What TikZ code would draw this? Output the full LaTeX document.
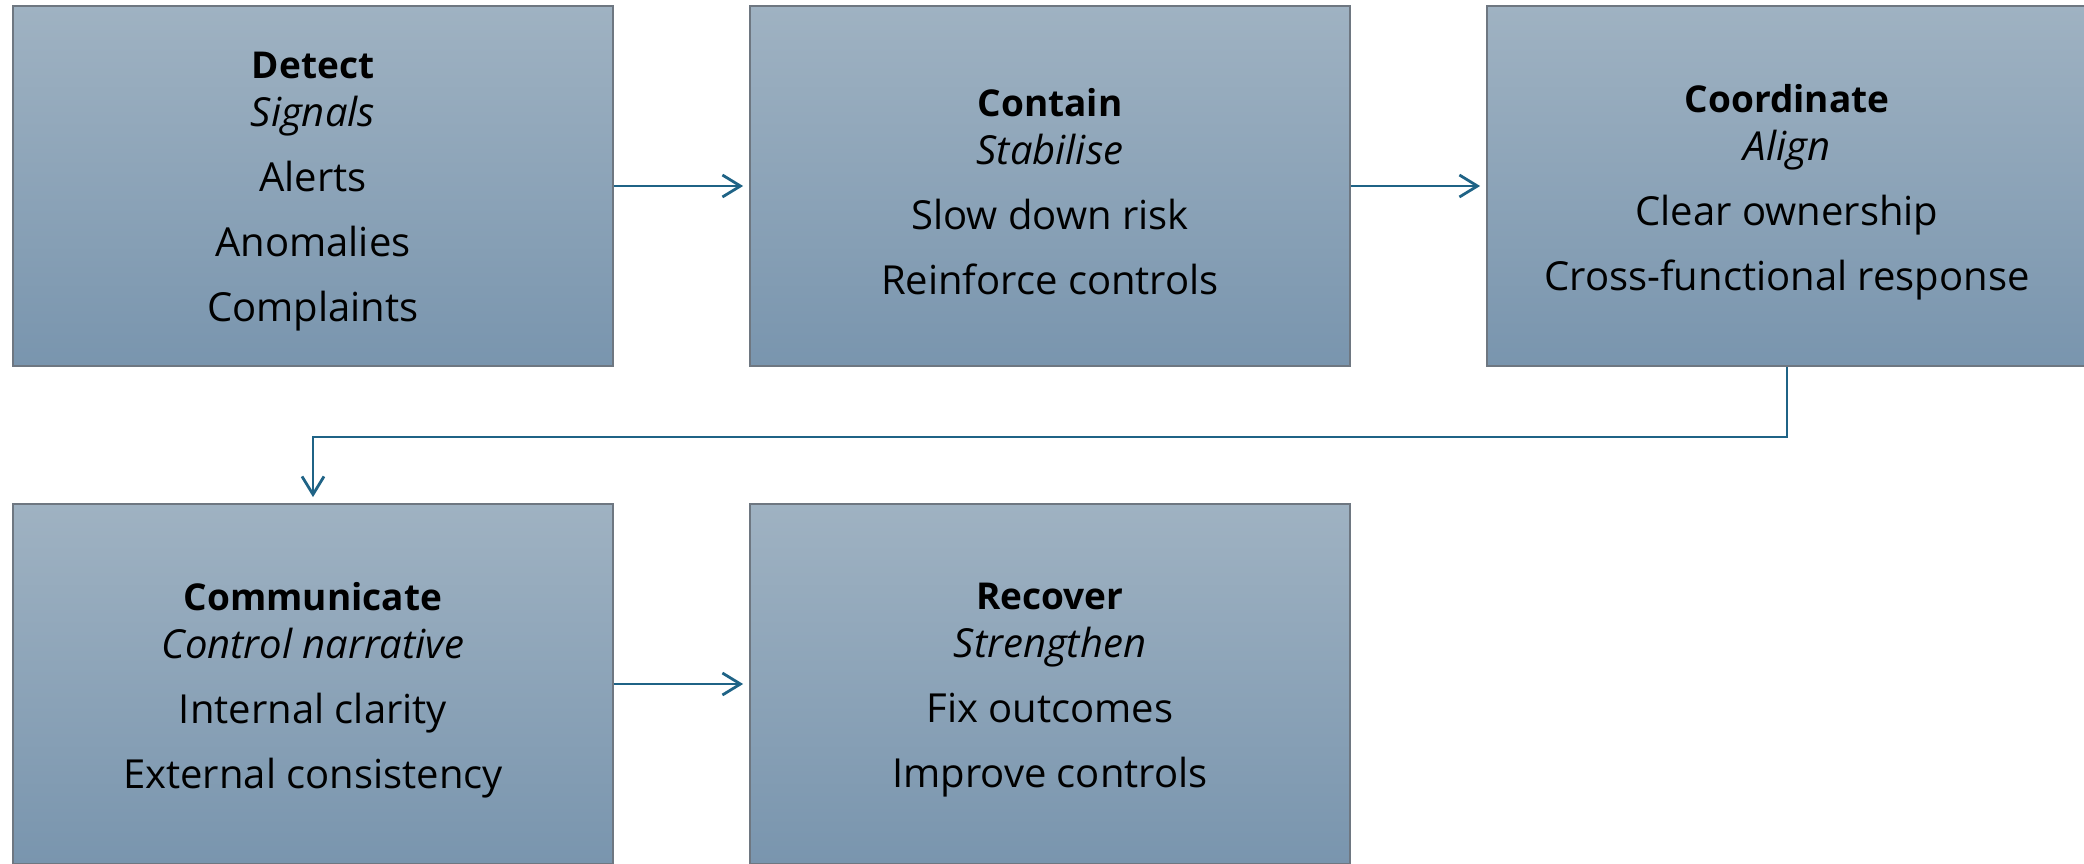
\documentclass[tikz,border=0pt]{standalone}
\usepackage{fontspec}
\setmainfont{Open Sans}
\usetikzlibrary{arrows.meta}
\definecolor{boxtop}{HTML}{9FB2C2}
\definecolor{boxbottom}{HTML}{7995AE}
\definecolor{boxedge}{HTML}{6E7781}
\definecolor{flow}{HTML}{1F6386}
\tikzset{
  stage/.style={rectangle, draw=boxedge, line width=0.9pt,
    top color=boxtop, bottom color=boxbottom,
    minimum width=300pt, minimum height=180pt, inner sep=0pt},
  stagelabel/.style={align=center, text=black, inner sep=0pt,
    font=\fontsize{20}{24}\selectfont},
  flowline/.style={draw=flow, line width=1.4pt,
    -{Straight Barb[length=9pt,width=11pt,line width=1.4pt]}, shorten >=3pt}
}
% bold title, italic subtitle, then the listed items
\newcommand{\stagetext}[3]{{\fontsize{18.5}{24}\selectfont\bfseries #1}\\\textit{#2}#3}
\begin{document}
\begin{tikzpicture}[x=0.5pt,y=-0.5pt]
  \useasboundingbox (0,0) rectangle (2084,863);
  % upper row
  \node[stage] (detect) at (313,186) {};
  \node[stage] (contain) at (1050,186) {};
  \node[stage] (coord) at (1787,186) {};
  % lower row
  \node[stage] (comm) at (313,684) {};
  \node[stage] (recover) at (1050,684) {};
  % texts
  \node[stagelabel] (detectText) at ([yshift=-3pt]detect.center)
    {\stagetext{Detect}{Signals}{\\[8.5pt]Alerts\\[8.5pt]Anomalies\\[8.5pt]Complaints}};
  \node[stagelabel] (containText) at ([yshift=-3pt]contain.center)
    {\stagetext{Contain}{Stabilise}{\\[8.5pt]Slow down risk\\[8.5pt]Reinforce controls}};
  \node[stagelabel] (coordText) at ([yshift=-3pt]coord.center)
    {\stagetext{Coordinate}{Align}{\\[8.5pt]Clear ownership\\[8.5pt]Cross-functional response}};
  \node[stagelabel] (commText) at ([yshift=-3pt]comm.center)
    {\stagetext{Communicate}{Control narrative}{\\[8.5pt]Internal clarity\\[8.5pt]External consistency}};
  \node[stagelabel] (recoverText) at ([yshift=-3pt]recover.center)
    {\stagetext{Recover}{Strengthen}{\\[8.5pt]Fix outcomes\\[8.5pt]Improve controls}};
  % connectors
  \draw[flowline] (detect.east) -- (contain.west);
  \draw[flowline] (contain.east) -- (coord.west);
  \coordinate (turnA) at (1787,437);
  \coordinate (turnB) at (313,437);
  \draw[flowline] (coord.south) -- (turnA) -- (turnB) -- (comm.north);
  \draw[flowline] (comm.east) -- (recover.west);
\end{tikzpicture}
\end{document}
